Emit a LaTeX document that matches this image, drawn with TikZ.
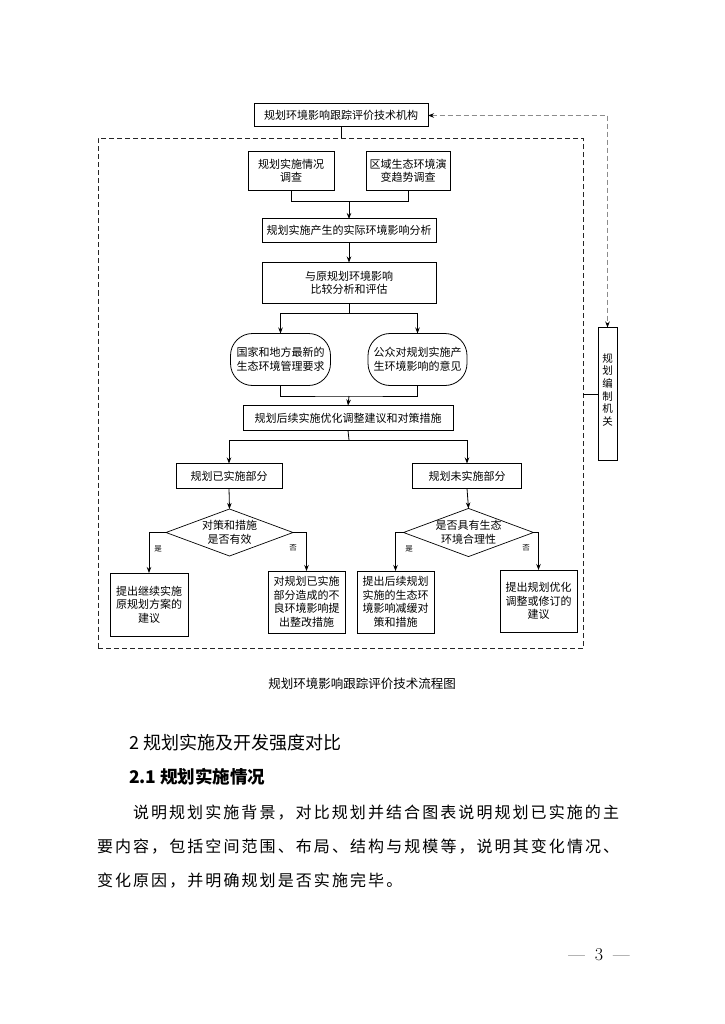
\documentclass[tikz,border=0pt]{standalone}
\usepackage{fontspec}
\usetikzlibrary{arrows.meta,shapes.geometric,positioning}
\newfontfamily\cjk{Noto Sans CJK SC}
\newfontfamily\cjkbody[LetterSpace=13]{Noto Sans CJK SC}
\begin{document}
\begin{tikzpicture}[x=1pt,y=-1pt,
  every node/.style={inner sep=0pt,outer sep=0pt},
  lbl/.style={font=\cjk\fontsize{11}{13.5}\selectfont,align=center},
  box/.style={lbl,draw=black,line width=1pt,fill=white},
  pill/.style={lbl,draw=black,line width=0.8pt,rounded corners=22pt},
  dia/.style={lbl,draw=black,line width=0.7pt,shape=diamond,aspect=2.7},
  frame/.style={draw=black!85,line width=0.7pt,dash pattern=on 5pt off 3pt},
  conn/.style={draw=black,line width=0.8pt},
  arr/.style={conn,-{Stealth[length=6pt,width=4.5pt]}},
  yn/.style={font=\cjk\fontsize{7.5}{8}\selectfont},
]
\useasboundingbox (0,0) rectangle (724,1024);
\fill[white] (0,0) rectangle (724,1024);

% frame
\node[frame,minimum width=485pt,minimum height=510pt] (frame) at (340.5,393.5) {};

% top
\node[box,minimum width=174pt,minimum height=23pt] (top) at (341,115.5) {规划环境影响跟踪评价技术机构};
\node[box,minimum width=19pt,minimum height=133pt] (org) at (607.5,394) {};
\node[lbl,font=\cjk\fontsize{10.5}{12.7}\selectfont] (orgt) at (607.5,390) {规\\划\\编\\制\\机\\关};

\node[box,minimum width=86pt,minimum height=39pt] (b1) at (291,171) {规划实施情况\\调查};
\node[box,minimum width=84pt,minimum height=39pt] (b2) at (408,171) {区域生态环境演\\变趋势调查};
\node[box,minimum width=174pt,minimum height=23pt] (b3) at (349,230.5) {规划实施产生的实际环境影响分析};
\node[box,minimum width=174pt,minimum height=41pt] (b4) at (349,283) {与原规划环境影响\\比较分析和评估};
\node[pill,minimum width=100pt,minimum height=52pt] (p1) at (280.5,359.5) {国家和地方最新的\\生态环境管理要求};
\node[pill,minimum width=99pt,minimum height=52pt] (p2) at (417.5,359.5) {公众对规划实施产\\生环境影响的意见};
\node[box,minimum width=210pt,minimum height=25pt] (b5) at (348,418) {规划后续实施优化调整建议和对策措施};
\node[box,minimum width=106pt,minimum height=25pt] (b6) at (229,476) {规划已实施部分};
\node[box,minimum width=109pt,minimum height=25pt] (b7) at (467,476) {规划未实施部分};
\node[dia,minimum width=127pt,minimum height=47pt] (d1) at (229.5,532.5) {对策和措施\\是否有效};
\node[dia,minimum width=127pt,minimum height=47pt] (d2) at (468.5,532.5) {是否具有生态\\环境合理性};
\node[box,minimum width=78pt,minimum height=63pt] (b8) at (149,604.5) {提出继续实施\\原规划方案的\\建议};
\node[box,minimum width=77pt,minimum height=62pt] (b9) at (306.5,602) {对规划已实施\\部分造成的不\\良环境影响提\\出整改措施};
\node[box,minimum width=77pt,minimum height=62pt] (b10) at (395.5,602) {提出后续规划\\实施的生态环\\境影响减缓对\\策和措施};
\node[box,minimum width=77pt,minimum height=62pt] (b11) at (538.5,601) {提出规划优化\\调整或修订的\\建议};

% connectors
\draw[conn] (top.south) -- (top.south |- frame.north);
\draw[draw=black!45,line width=0.8pt,dash pattern=on 5pt off 3pt,
  {Stealth[length=6pt,width=4.5pt,color=black]}-{Stealth[length=6pt,width=4.5pt,color=black]}]
  (top.east) -| (org.north);
\draw[conn] (org.west) -- (org.west -| frame.east);

\coordinate (j1) at (349,201.5);
\draw[conn] (b1.south) |- (j1) -| (b2.south);
\draw[arr] (j1) -- (b3.north);
\draw[arr] (b3.south) -- (b4.north);
\coordinate (j2) at (349,313.5);
\draw[conn] (b4.south) -- (j2);
\draw[arr] (j2) -| (p1.north);
\draw[arr] (j2) -| (p2.north);
\coordinate (j3) at (349,396);
\draw[conn] (p1.south) |- (j3) -| (p2.south);
\draw[arr] (j3) -- (b5.north);
\coordinate (j4) at (349,440);
\draw[conn] (b5.south) -- (j4);
\draw[arr] (j4) -| (b6.north);
\draw[arr] (j4) -| (b7.north);
\draw[arr] (b6.south) -- (d1.north);
\draw[arr] (b7.south) -- (d2.north);
\draw[arr] (d1.west) -| (b8.north);
\draw[arr] (d1.east) -| (b9.north);
\draw[arr] (d2.west) -| (b10.north);
\draw[arr] (d2.east) -| (b11.north);
\node[yn] (y1) at (158,549) {是};
\node[yn] (n1) at (293,547.5) {否};
\node[yn] (y2) at (409,549) {是};
\node[yn] (n2) at (526,547.5) {否};

% caption and text
\node[font=\cjk\fontsize{12.5}{14}\selectfont] (cap) at (362,683.5) {规划环境影响跟踪评价技术流程图};
\node[anchor=west,font=\cjk\fontsize{18}{20}\selectfont] (h1) at (129,743) {2 规划实施及开发强度对比};
\node[anchor=west,font=\cjk\bfseries\fontsize{17.5}{20}\selectfont] (h2) at (129,776.5) {2.1 规划实施情况};
\node[anchor=west,font=\cjkbody\fontsize{16}{20}\selectfont] (l1) at (133,813) {说明规划实施背景，对比规划并结合图表说明规划已实施的主};
\node[anchor=west,font=\cjkbody\fontsize{16}{20}\selectfont] (l2) at (97,847) {要内容，包括空间范围、布局、结构与规模等，说明其变化情况、};
\node[anchor=west,font=\cjkbody\fontsize{16}{20}\selectfont] (l3) at (97,880.5) {变化原因，并明确规划是否实施完毕。};
\node[font=\fontsize{18}{20}\selectfont] (pg) at (599,955) {—\hspace{10pt}3\hspace{10pt}—};
\end{tikzpicture}
\end{document}
